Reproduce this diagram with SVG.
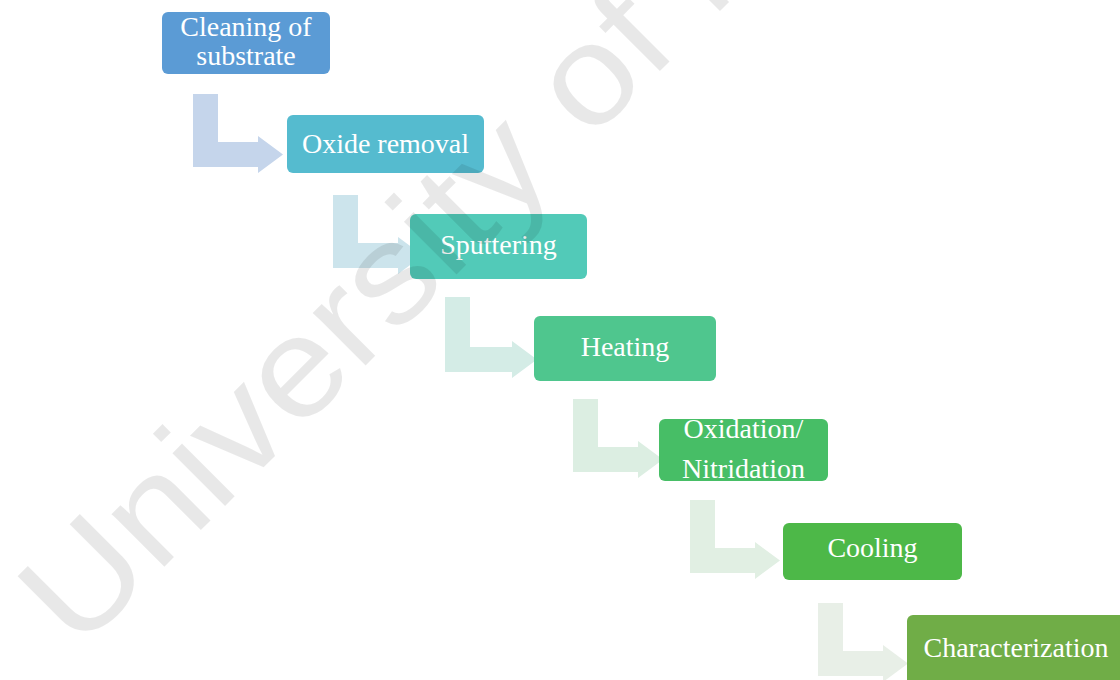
<svg xmlns="http://www.w3.org/2000/svg" width="1120" height="680" viewBox="0 0 1120 680">
<style>
.box{stroke:none}
.lbl{font-family:"Liberation Serif","Times New Roman",serif;font-size:28px;fill:#ffffff;text-anchor:middle}
.wm{font-family:"Liberation Sans",Arial,sans-serif;font-size:155px;fill:#000000;fill-opacity:0.09}
</style>
<rect x="0" y="0" width="1120" height="680" fill="#ffffff"/>
<g id="connectors">
<path fill="#C5D5EB" d="M193,94 H218 V142 H258 V136 L283,154.5 L258,173 V167 H193 Z"/>
<path fill="#CCE4EC" d="M333,195 H358 V243 H398 V237 L423,255.5 L398,274 V268 H333 Z"/>
<path fill="#D4ECE6" d="M445,297 H470 V347 H512 V341 L537,359.5 L512,378 V372 H445 Z"/>
<path fill="#DCEEE2" d="M573,399 H598 V447 H638 V441 L663,459.5 L638,478 V472 H573 Z"/>
<path fill="#E1EFE3" d="M690,500 H715 V548 H755 V542 L780,560.5 L755,579 V573 H690 Z"/>
<path fill="#E8EFE7" d="M818,603 H843 V651 H883 V645 L908,663.5 L883,682 V676 H818 Z"/>
</g>
<g id="n1">
<rect class="box" x="162" y="12" width="168" height="62" rx="6" fill="#5B9BD5"/>
<text class="lbl" x="246" y="36">Cleaning of</text>
<text class="lbl" x="246" y="65">substrate</text>
</g>
<g id="n2">
<rect class="box" x="287" y="115" width="197" height="58" rx="6" fill="#55BBCF"/>
<text class="lbl" x="385.5" y="153">Oxide removal</text>
</g>
<g id="n3">
<rect class="box" x="410" y="214" width="177" height="65" rx="6" fill="#52CAB8"/>
<text class="lbl" x="498.5" y="254">Sputtering</text>
</g>
<g id="n4">
<rect class="box" x="534" y="316" width="182" height="65" rx="6" fill="#4FC68E"/>
<text class="lbl" x="625" y="356">Heating</text>
</g>
<g id="n5">
<rect class="box" x="659" y="419" width="169" height="62" rx="6" fill="#47BE66"/>
<text class="lbl" x="743.5" y="438">Oxidation/</text>
<text class="lbl" x="743.5" y="478">Nitridation</text>
</g>
<g id="n6">
<rect class="box" x="783" y="523" width="179" height="57" rx="6" fill="#4DB848"/>
<text class="lbl" x="872.5" y="557">Cooling</text>
</g>
<g id="n7">
<rect class="box" x="907" y="615" width="220" height="75" rx="6" fill="#70AD47"/>
<text class="lbl" x="1016" y="657">Characterization</text>
</g>
<text class="wm" transform="translate(77.7,653.3) rotate(-45) scale(1,0.91)">University of M</text>
</svg>
